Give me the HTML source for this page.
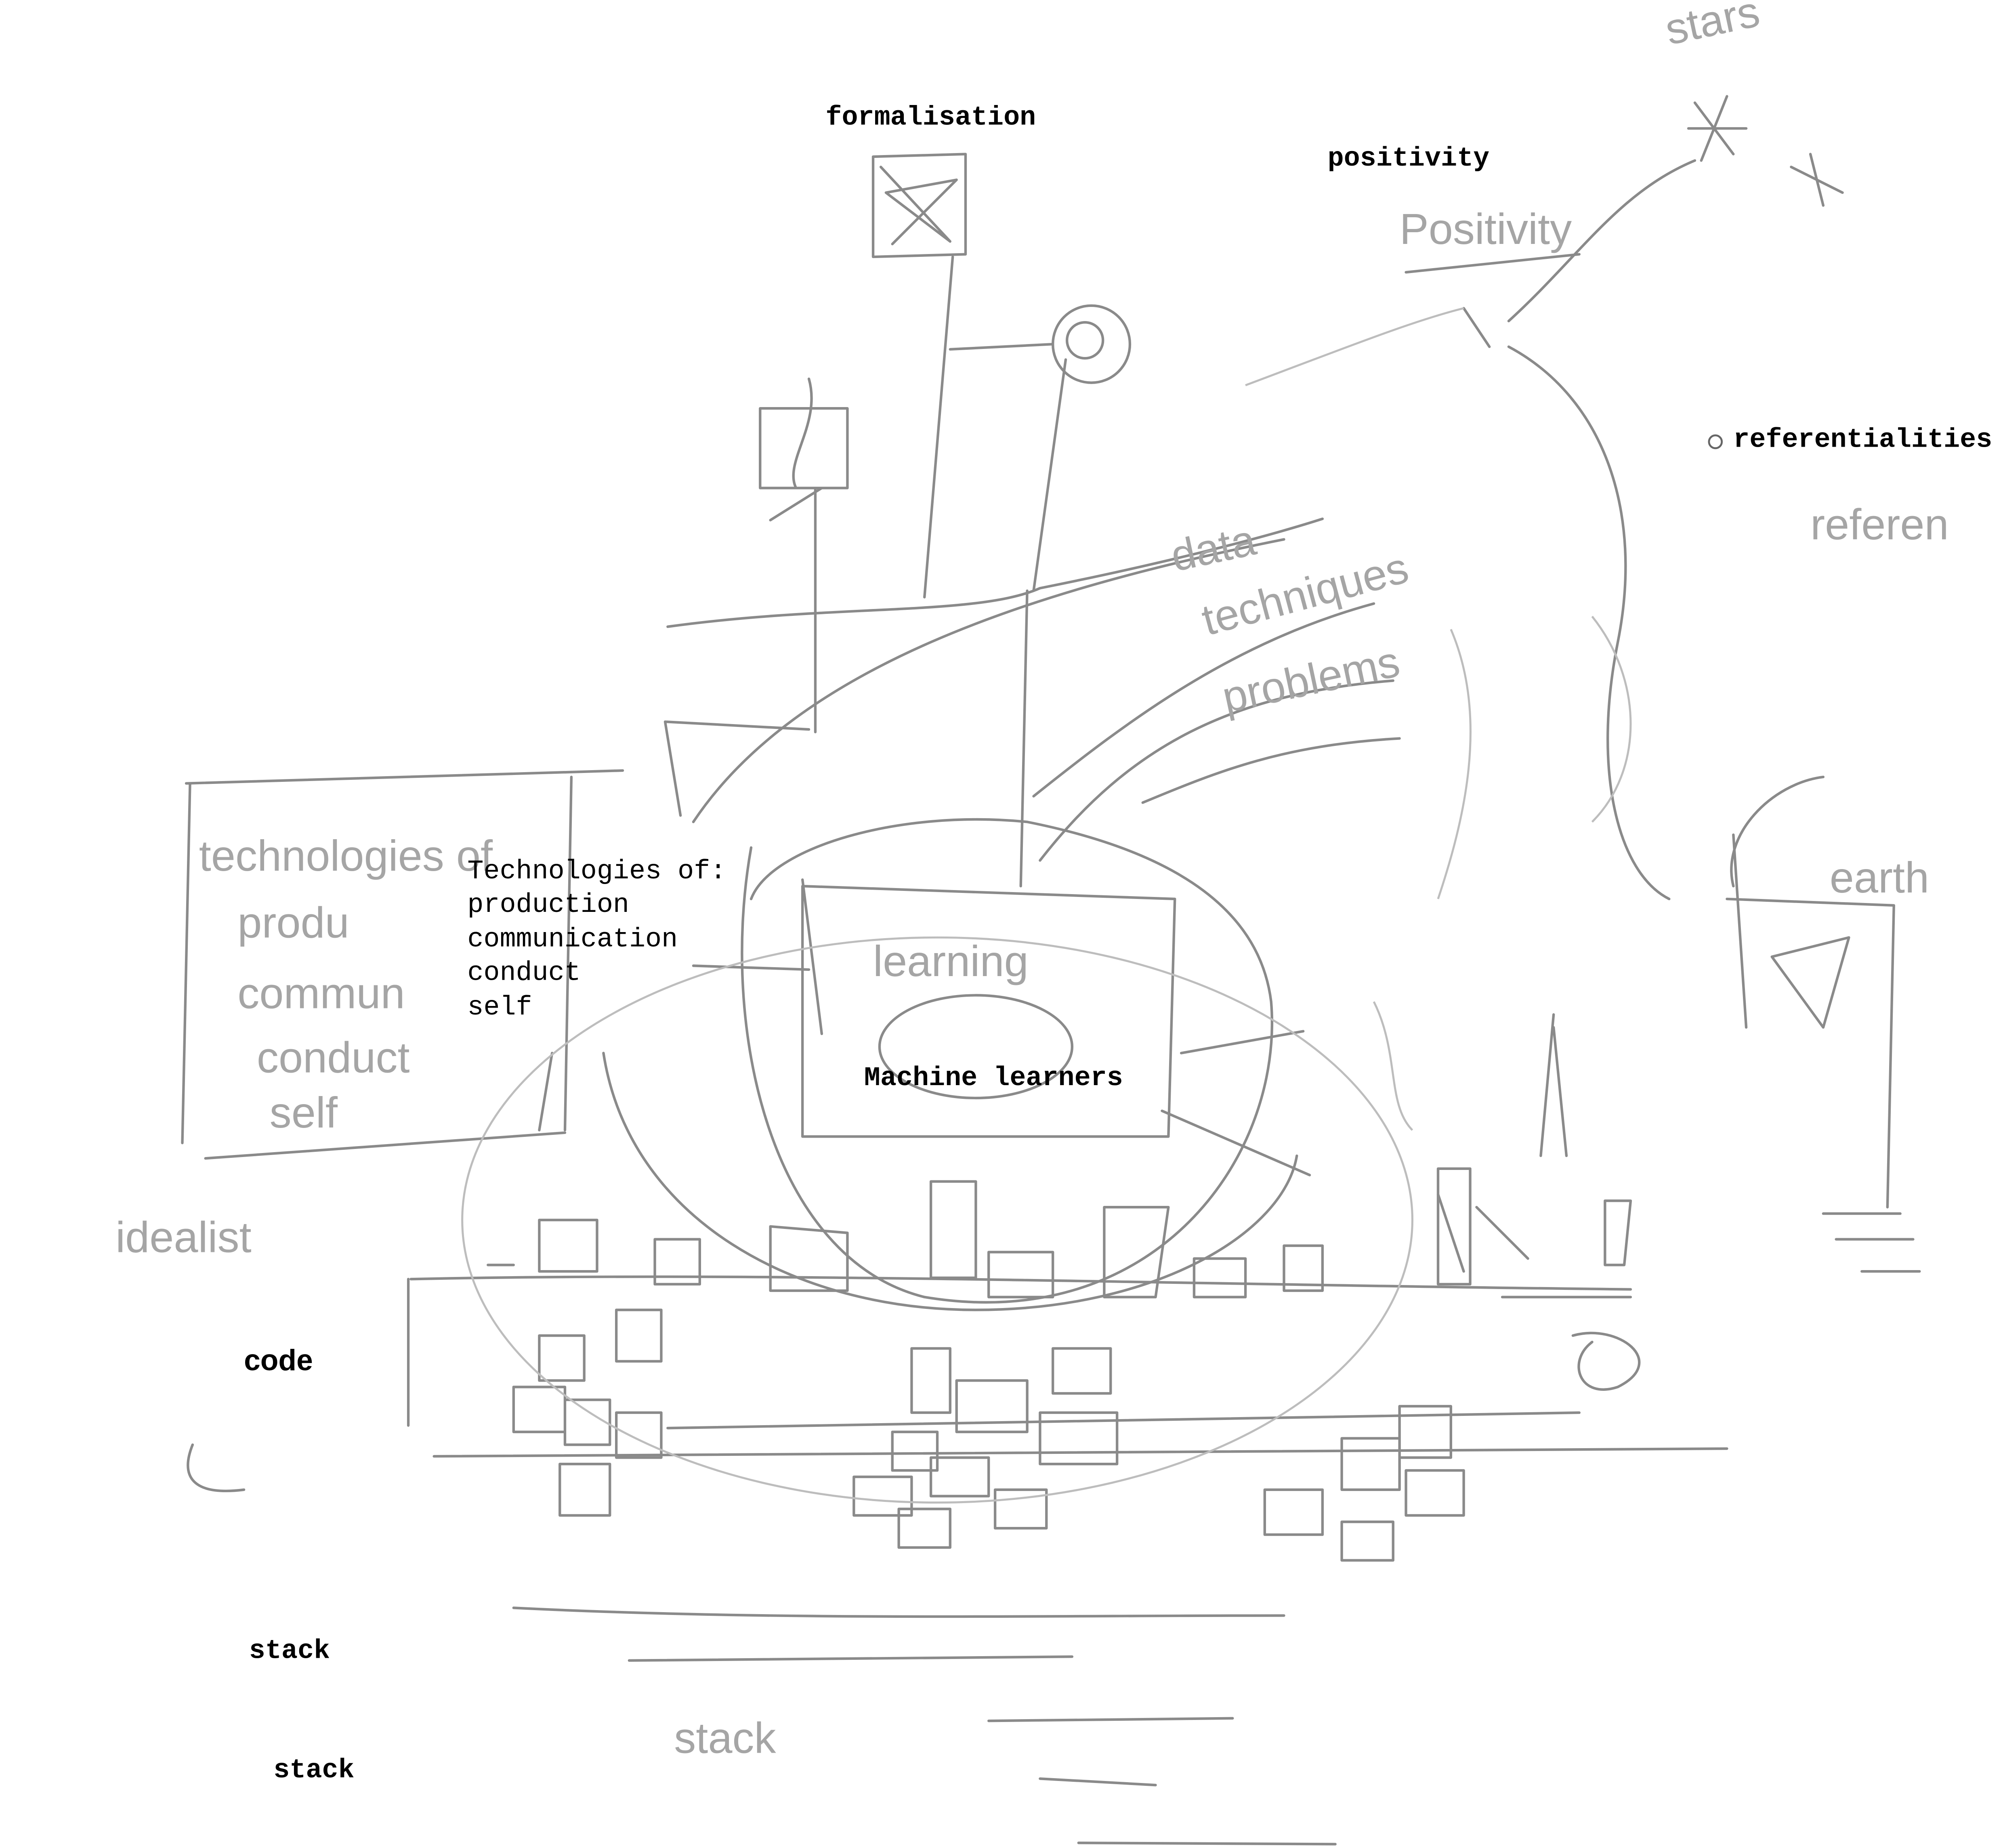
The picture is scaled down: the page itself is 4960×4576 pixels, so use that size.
<!DOCTYPE html>
<html><head><meta charset="utf-8"><style>
html,body{margin:0;padding:0;background:#fff;}
svg{display:block;}
.s{fill:none;stroke:#8a8a8a;stroke-width:2;stroke-linecap:round;stroke-linejoin:round;}
.l{fill:none;stroke:#bdbdbd;stroke-width:1.6;}
.t{font-family:"Liberation Mono",monospace;fill:#000;}
.b{font-weight:bold;}
.h{font-family:"Liberation Sans",sans-serif;fill:#a5a5a5;font-size:34px;}
</style></head><body>
<svg width="4960" height="4576" viewBox="0 0 1560 1439" preserveAspectRatio="none" xmlns="http://www.w3.org/2000/svg">
<rect width="1560" height="1439" fill="#fff"/>
<path class="s" d="M680 122 L752 120 L752 198 L680 200 Z M686 130 L740 188 L690 150 L745 140 L695 190"/>
<path class="s" d="M742 200 L720 465 M740 272 L820 268 M805 460 L830 280"/>
<circle class="s" cx="850" cy="268" r="30"/><circle class="s" cx="845" cy="265" r="14"/>
<path class="s" d="M592 318 L660 318 L660 380 L592 380 Z M630 295 C640 330 610 360 620 380 M635 380 L635 570 M600 405 L640 380"/>
<path class="s" d="M520 488 C650 470 760 480 810 458 C900 440 980 420 1030 404"/>
<path class="s" d="M518 562 L530 635 M518 562 L630 568"/>
<path class="s" d="M540 640 C620 520 800 460 1000 420 M585 660 C560 800 600 980 720 1010 C900 1040 1000 900 990 780 C980 700 900 660 800 640 C700 630 600 660 585 700"/>
<path class="s" d="M470 820 C490 950 620 1020 760 1020 C900 1020 1000 960 1010 900"/>
<path class="s" d="M625 690 L915 700 L910 885 L625 885 Z M625 685 L640 805"/>
<ellipse class="s" cx="760" cy="815" rx="75" ry="40"/>
<text class="h" x="680" y="760" font-size="28">learning</text>
<path class="s" d="M540 752 L630 755 M920 820 L1015 803 M905 865 L1020 915"/>
<path class="s" d="M795 690 L800 460 M805 620 C880 560 960 500 1070 470 M810 670 C880 580 960 540 1085 530 M890 625 C950 600 1000 580 1090 575"/>
<text class="h" x="915" y="445" font-size="30" transform="rotate(-12 915 445)">data</text>
<text class="h" x="940" y="495" font-size="28" transform="rotate(-15 940 495)">techniques</text>
<text class="h" x="955" y="555" font-size="28" transform="rotate(-12 955 555)">problems</text>
<path class="s" d="M145 610 L485 600 M148 610 L142 890 M160 902 L440 882 M445 605 L440 880 M430 820 L420 880"/>
<text class="h" x="155" y="678" font-size="38">technologies of</text>
<text class="h" x="185" y="730" font-size="38">produ</text>
<text class="h" x="185" y="785" font-size="30">commun</text>
<text class="h" x="200" y="835" font-size="34">conduct</text>
<text class="h" x="210" y="878" font-size="34">self</text>
<text class="h" x="90" y="975" font-size="42">idealist</text>
<path class="s" d="M320 996 C600 990 900 1000 1270 1004 M318 996 L318 1110 M338 1134 L1345 1128 M520 1112 L1230 1100"/>
<path class="s" d="M150 1125 C140 1150 150 1165 190 1160 M380 985 L400 985 M420 950 L465 950 L465 990 L420 990 Z M420 1040 L455 1040 L455 1075 L420 1075 Z M400 1080 L440 1080 L440 1115 L400 1115 Z M440 1090 L475 1090 L475 1125 L440 1125 Z M480 1100 L515 1100 L515 1135 L480 1135 Z M436 1140 L475 1140 L475 1180 L436 1180 Z M480 1020 L515 1020 L515 1060 L480 1060 Z M510 965 L545 965 L545 1000 L510 1000 Z"/>
<path class="s" d="M600 955 L660 960 L660 1005 L600 1005 Z M725 920 L760 920 L760 995 L725 995 Z M770 975 L820 975 L820 1010 L770 1010 Z M860 940 L910 940 L900 1010 L860 1010 Z M930 980 L970 980 L970 1010 L930 1010 Z M1000 970 L1030 970 L1030 1005 L1000 1005 Z M1120 910 L1145 910 L1145 1000 L1120 1000 Z"/>
<path class="s" d="M710 1050 L740 1050 L740 1100 L710 1100 Z M745 1075 L800 1075 L800 1115 L745 1115 Z M820 1050 L865 1050 L865 1085 L820 1085 Z M810 1100 L870 1100 L870 1140 L810 1140 Z M665 1150 L710 1150 L710 1180 L665 1180 Z M700 1175 L740 1175 L740 1205 L700 1205 Z M725 1135 L770 1135 L770 1165 L725 1165 Z M775 1160 L815 1160 L815 1190 L775 1190 Z M695 1115 L730 1115 L730 1145 L695 1145 Z"/>
<path class="s" d="M1090 1095 L1130 1095 L1130 1135 L1090 1135 Z M1045 1120 L1090 1120 L1090 1160 L1045 1160 Z M1095 1145 L1140 1145 L1140 1180 L1095 1180 Z M985 1160 L1030 1160 L1030 1195 L985 1195 Z M1045 1185 L1085 1185 L1085 1215 L1045 1215 Z"/>
<path class="s" d="M400 1252 C600 1262 800 1258 1000 1258 M490 1293 L835 1290 M770 1340 L960 1338 M810 1385 L900 1390 M840 1435 L1040 1436"/>
<text class="h" x="525" y="1365" font-size="52">stack</text>
<path class="s" d="M1095 212 L1230 198 M1140 240 L1160 270 M1175 250 C1230 200 1260 150 1320 125 M1175 270 C1250 310 1280 400 1260 500 C1240 600 1260 680 1300 700"/>
<text class="h" x="1090" y="190" font-size="42">Positivity</text>
<text class="h" x="1300" y="35" font-size="40" transform="rotate(-12 1300 35)">stars</text>
<path class="s" d="M1320 80 L1350 120 M1345 75 L1325 125 M1315 100 L1360 100 M1395 130 L1435 150 M1410 120 L1420 160"/>
<text class="h" x="1410" y="420" font-size="46">referen</text>
<path class="s" d="M1350 690 C1340 650 1380 610 1420 605 M1350 650 L1360 800 M1345 700 L1475 705 L1470 940 M1380 745 L1440 730 L1420 800 Z M1420 945 L1480 945 M1430 965 L1490 965 M1450 990 L1495 990"/>
<text class="h" x="1425" y="695" font-size="40">earth</text>
<path class="s" d="M1210 790 L1200 900 M1210 800 L1220 900 M1170 1010 L1270 1010 M1225 1040 C1260 1030 1300 1060 1260 1080 C1230 1090 1220 1060 1240 1045 M1250 935 L1270 935 L1265 985 L1250 985 Z M1120 930 L1140 990 M1150 940 L1190 980"/>
<path class="l" d="M970 300 C1050 270 1100 250 1140 240 M1130 490 C1160 560 1140 640 1120 700 M1240 480 C1280 530 1280 600 1240 640 M1070 780 C1090 820 1080 860 1100 880"/>
<ellipse class="l" cx="730" cy="950" rx="370" ry="220"/>
<text class="t b" x="643" y="97" font-size="21">formalisation</text>
<text class="t b" x="1034" y="129" font-size="21">positivity</text>
<circle cx="1336" cy="344" r="5" fill="none" stroke="#666" stroke-width="1.5"/>
<text class="t b" x="1350" y="348" font-size="21">referentialities</text>
<text class="t" x="364" y="684" font-size="21">Technologies of:</text>
<text class="t" x="364" y="710" font-size="21">production</text>
<text class="t" x="364" y="737" font-size="21">communication</text>
<text class="t" x="364" y="763" font-size="21">conduct</text>
<text class="t" x="364" y="790" font-size="21">self</text>
<text class="t b" x="673" y="845" font-size="21">Machine learners</text>
<text x="190" y="1067" font-family="Liberation Sans, sans-serif" font-weight="bold" font-size="23">code</text>
<text x="194" y="1291" font-family="Liberation Mono, monospace" font-weight="bold" font-size="21">stack</text>
<text x="213" y="1384" font-family="Liberation Mono, monospace" font-weight="bold" font-size="21">stack</text>
</svg>
</body></html>
